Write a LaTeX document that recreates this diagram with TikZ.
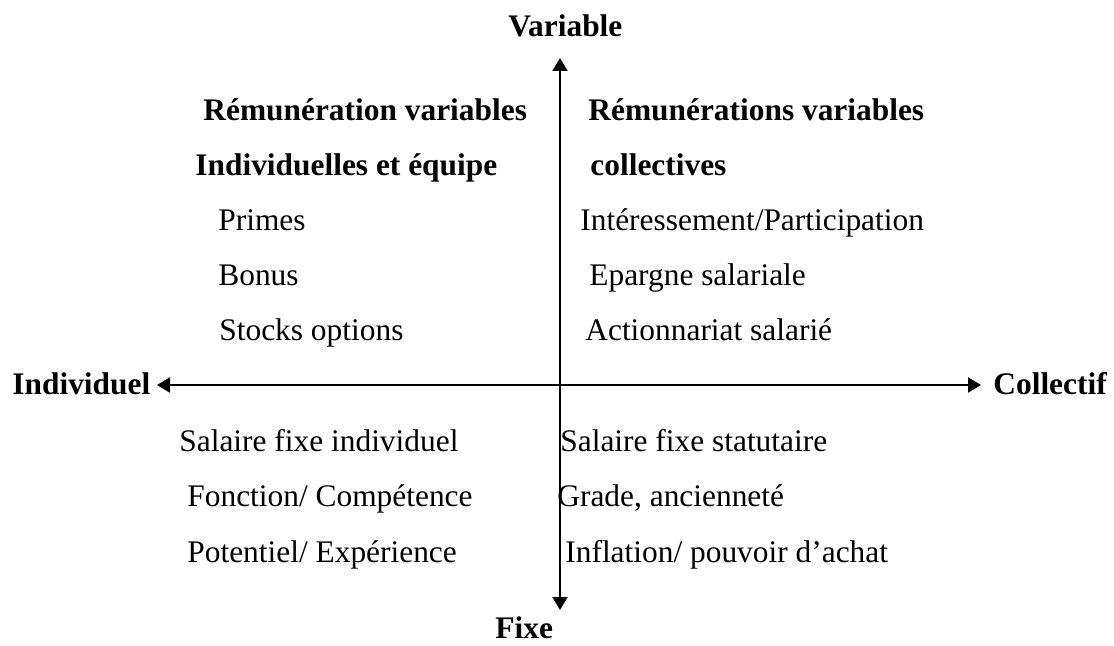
\documentclass[tikz,border=0pt]{standalone}
\usepackage{fontspec}
\setmainfont{Liberation Serif}
\usetikzlibrary{arrows.meta}
\begin{document}
\begin{tikzpicture}[x=0.5pt,y=-0.5pt,
  txt/.style={anchor=base west,inner sep=0pt,font=\fontsize{15.7}{19}\selectfont},
  head/.style={txt,font=\fontsize{15.7}{19}\selectfont\bfseries},
  axis/.style={line width=1pt,{Triangle[length=6.5pt,width=7.5pt]}-{Triangle[length=6.5pt,width=7.5pt]}}]
\useasboundingbox (0,0) rectangle (1114,646);

% axis end points
\coordinate (top) at (560,58);
\coordinate (bottom) at (560,610);
\coordinate (left) at (157,385);
\coordinate (right) at (981,385);
\draw[axis] (bottom) -- (top);
\draw[axis] (left) -- (right);

% axis labels
\node[head] (variable) at (508,37) {Variable};
\node[head] (fixe) at (495,638) {Fixe};
\node[head] (individuel) at (12,395) {Individuel};
\node[head] (collectif) at (993,395) {Collectif};

% upper left quadrant
\node[head] (q1a) at (203,121) {Rémunération variables};
\node[head] (q1b) at (195,176) {Individuelles et équipe};
\node[txt] (q1c) at (218,231) {Primes};
\node[txt] (q1d) at (218,286) {Bonus};
\node[txt] (q1e) at (219,341) {Stocks options};

% upper right quadrant
\node[head] (q2a) at (588,121) {Rémunérations variables};
\node[head] (q2b) at (590,176) {collectives};
\node[txt] (q2c) at (580,231) {Intéressement/Participation};
\node[txt] (q2d) at (589,286) {Epargne salariale};
\node[txt] (q2e) at (585,341) {Actionnariat salarié};

% lower left quadrant
\node[txt] (q3a) at (179,452) {Salaire fixe individuel};
\node[txt] (q3b) at (187,507) {Fonction/ Compétence};
\node[txt] (q3c) at (187,562) {Potentiel/ Expérience};

% lower right quadrant
\node[txt] (q4a) at (560,452) {Salaire fixe statutaire};
\node[txt] (q4b) at (557,507) {Grade, ancienneté};
\node[txt] (q4c) at (565,562) {Inflation/ pouvoir d’achat};
\end{tikzpicture}
\end{document}
